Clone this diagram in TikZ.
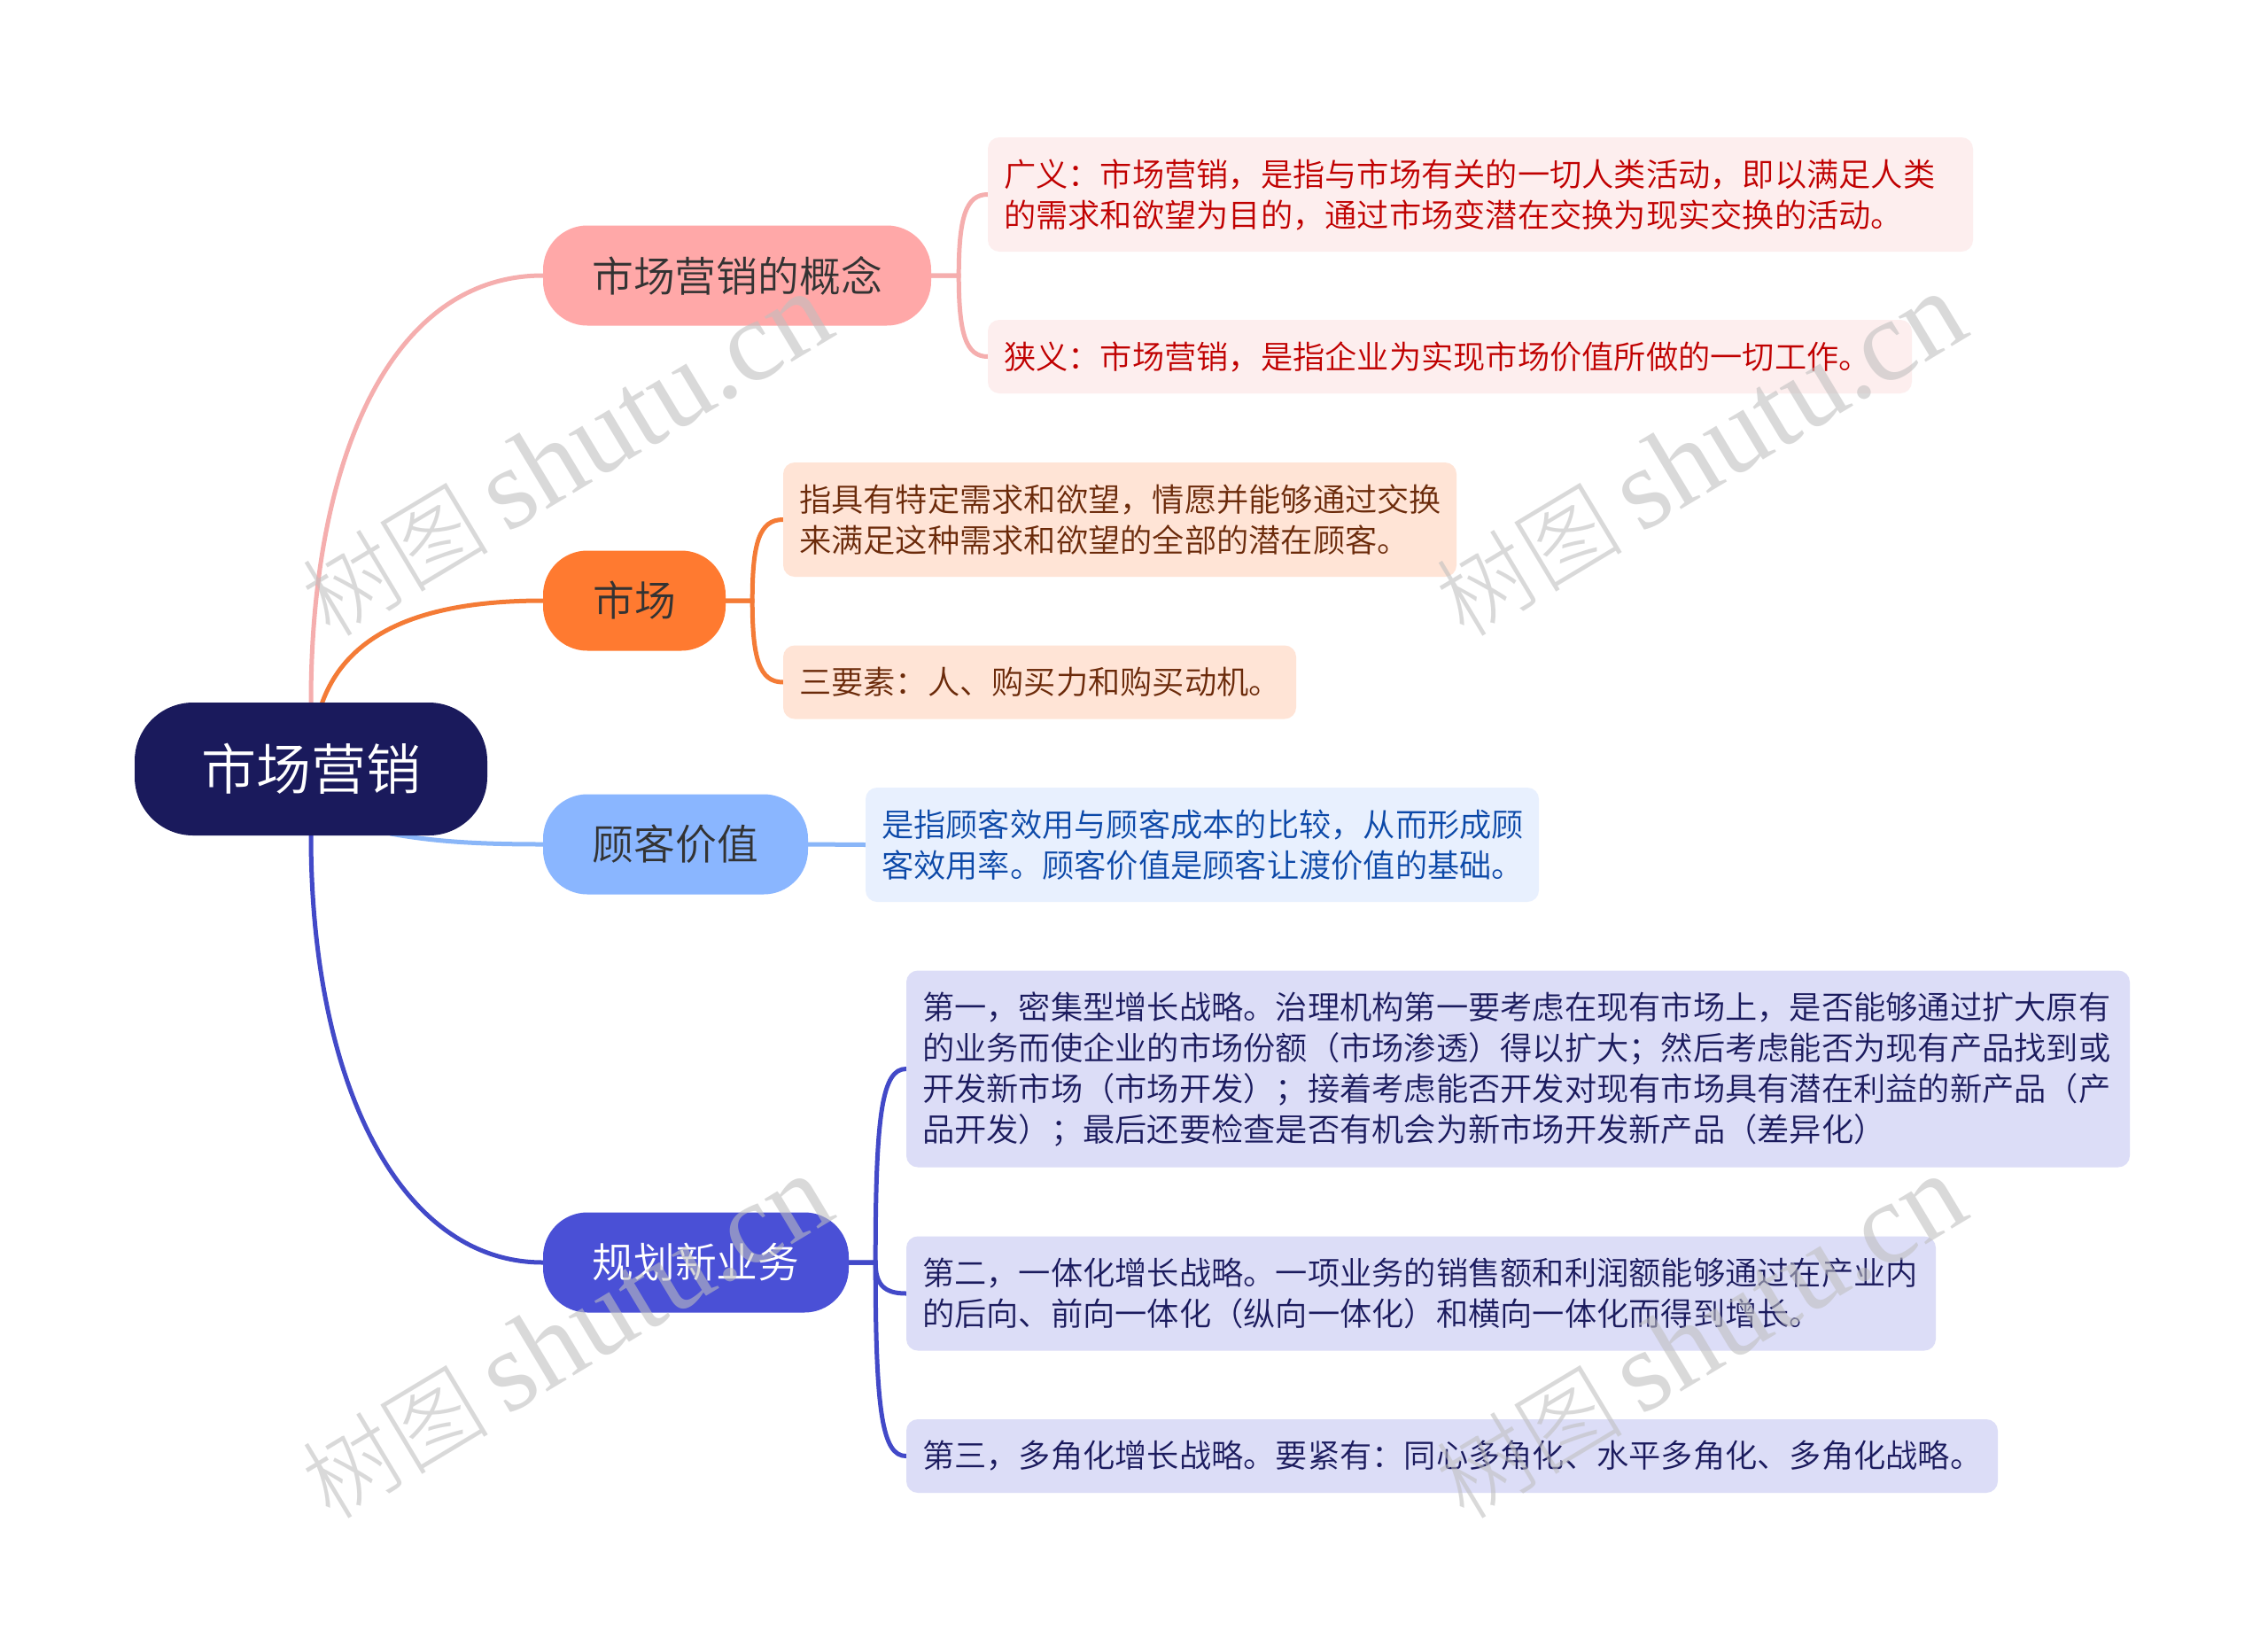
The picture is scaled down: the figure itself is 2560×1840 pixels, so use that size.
\documentclass[tikz,border=0pt]{standalone}
\usepackage{fontspec}
\setmainfont{Noto Sans CJK SC}[UprightFont=* DemiLight]
\newfontfamily\wmcjk{Noto Sans CJK SC}[UprightFont=* Light]
\newfontfamily\wmlat{Liberation Serif}
\usetikzlibrary{backgrounds}
\definecolor{rootc}{HTML}{1A1A5C}
\definecolor{aline}{HTML}{F5AEAE}\definecolor{afill}{HTML}{FFA8A8}\definecolor{aleaf}{HTML}{FDEEEE}\definecolor{atext}{HTML}{C00000}
\definecolor{bline}{HTML}{F47B36}\definecolor{bfill}{HTML}{FF7A30}\definecolor{bleaf}{HTML}{FFE4D6}\definecolor{btext}{HTML}{6B2A0A}
\definecolor{cline}{HTML}{8AB6F8}\definecolor{cfill}{HTML}{8AB6FF}\definecolor{cleaf}{HTML}{E8F0FE}\definecolor{ctext}{HTML}{0B48A8}
\definecolor{dline}{HTML}{4249C8}\definecolor{dfill}{HTML}{4A50D6}\definecolor{dleaf}{HTML}{DCDDF7}\definecolor{dtext}{HTML}{1B1B5E}
\tikzset{
 x=1pt,y=-1pt,
 rootnode/.style={fill=rootc,text=white,rounded corners=66pt,minimum width=398pt,minimum height=150pt,inner sep=0pt,font=\fontsize{62}{70}\selectfont},
 branch/.style={rounded corners=50pt,minimum height=113pt,inner sep=0pt,text=black!80,font=\fontsize{46.8}{56}\selectfont},
 leafbox/.style={rounded corners=13pt,inner sep=0pt,align=left,font=\fontsize{36.25}{46}\selectfont},
 conn/.style={line width=5pt,line cap=round},
 wm/.style={rotate=31,text=black!25,opacity=.58,inner sep=0pt},
}
\newcommand{\wmtext}{{\wmcjk\fontsize{106}{116}\selectfont 树图}\hspace{20pt}{\wmlat\fontsize{130}{140}\selectfont shutu.cn}}
\begin{document}
\begin{tikzpicture}
\begin{scope}[on background layer]
\fill[white] (0,0) rectangle (2560,1840);
\end{scope}
\useasboundingbox (0,0) rectangle (2560,1840);
\node[rootnode] (root) at (351,868) {市场营销};
\coordinate (rootB) at (363,795);
\coordinate (rootC) at (441,941);
\node[branch,fill=afill,minimum width=438pt] (b1) at (832,311) {市场营销的概念};
\node[branch,fill=bfill,minimum width=206pt] (b2) at (716,678) {市场};
\node[branch,fill=cfill,minimum width=299pt] (b3) at (762.5,953) {顾客价值};
\node[branch,fill=dfill,text=white,minimum width=345pt] (b4) at (785.5,1425) {规划新业务};
\node[leafbox,fill=aleaf,text=atext,minimum width=1112pt,minimum height=129pt,text width=1076pt] (a1) at (1671,219.5) {广义：市场营销，是指与市场有关的一切人类活动，即以满足人类\\的需求和欲望为目的，通过市场变潜在交换为现实交换的活动。};
\node[leafbox,fill=aleaf,text=atext,minimum width=1043pt,minimum height=83pt,text width=1007pt] (a2) at (1636.5,402.5) {狭义：市场营销，是指企业为实现市场价值所做的一切工作。};
\node[leafbox,fill=bleaf,text=btext,minimum width=760pt,minimum height=129pt,text width=724pt] (c1) at (1264,586.5) {指具有特定需求和欲望，情愿并能够通过交换\\来满足这种需求和欲望的全部的潜在顾客。};
\node[leafbox,fill=bleaf,text=btext,minimum width=579pt,minimum height=83pt,text width=543pt] (c2) at (1173.5,770) {三要素：人、购买力和购买动机。};
\node[leafbox,fill=cleaf,text=ctext,minimum width=760pt,minimum height=129pt,text width=724pt] (e1) at (1357,953.5) {是指顾客效用与顾客成本的比较，从而形成顾\\客效用率。顾客价值是顾客让渡价值的基础。};
\node[leafbox,fill=dleaf,text=dtext,minimum width=1381pt,minimum height=222pt,text width=1345pt] (d1) at (1713.5,1206.5) {第一，密集型增长战略。治理机构第一要考虑在现有市场上，是否能够通过扩大原有\\的业务而使企业的市场份额（市场渗透）得以扩大；然后考虑能否为现有产品找到或\\开发新市场（市场开发）；接着考虑能否开发对现有市场具有潜在利益的新产品（产\\品开发）；最后还要检查是否有机会为新市场开发新产品（差异化）};
\node[leafbox,fill=dleaf,text=dtext,minimum width=1162pt,minimum height=129pt,text width=1126pt] (d2) at (1604,1460) {第二，一体化增长战略。一项业务的销售额和利润额能够通过在产业内\\的后向、前向一体化（纵向一体化）和横向一体化而得到增长。};
\node[leafbox,fill=dleaf,text=dtext,minimum width=1232pt,minimum height=83pt,text width=1196pt] (d3) at (1639,1643.5) {第三，多角化增长战略。要紧有：同心多角化、水平多角化、多角化战略。};
\begin{scope}[on background layer]
\draw[conn,aline] (root.north) .. controls (351,520) and (440,311) .. (b1.west);
\draw[conn,bline] (rootB) .. controls (392,712) and (480,678) .. (b2.west);
\draw[conn,cline] (rootC) .. controls (490,950) and (540,953) .. (b3.west);
\draw[conn,dline] (root.south) .. controls (351,1220) and (450,1425) .. (b4.west);
\draw[conn,aline] (b1.east) -- ++(31,0) .. controls +(0,-65) and (1090,219.5) .. (a1.west);
\draw[conn,aline] (b1.east) -- ++(31,0) .. controls +(0,65) and (1090,402.5) .. (a2.west);
\draw[conn,bline] (b2.east) -- ++(30,0) .. controls +(0,-65) and (857,586.5) .. (c1.west);
\draw[conn,bline] (b2.east) -- ++(30,0) .. controls +(0,65) and (857,770) .. (c2.west);
\draw[conn,cline] (b3.east) -- (e1.west);
\draw[conn,dline] (b4.east) -- ++(30,0) .. controls +(0,-170) and (996,1206.5) .. (d1.west);
\draw[conn,dline] (b4.east) -- ++(30,0) .. controls +(0,25) and (998,1460) .. (d2.west);
\draw[conn,dline] (b4.east) -- ++(30,0) .. controls +(0,170) and (996,1643.5) .. (d3.west);
\end{scope}
\node[wm] (w1) at (639,514) {\wmtext};
\node[wm] (w2) at (1919,514) {\wmtext};
\node[wm] (w3) at (639,1510) {\wmtext};
\node[wm] (w4) at (1919,1510) {\wmtext};
\end{tikzpicture}
\end{document}
